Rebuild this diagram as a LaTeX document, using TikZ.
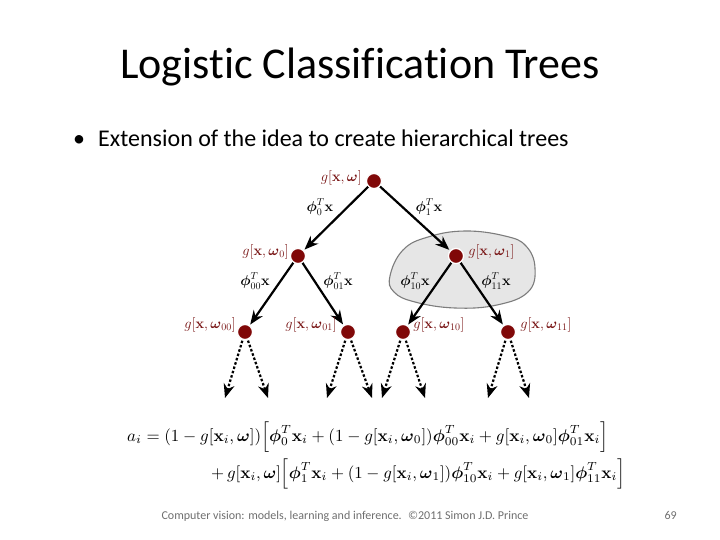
\documentclass[tikz,border=0pt]{standalone}
\usepackage{amsmath}
\usepackage[no-math]{fontspec}
\setmainfont{Carlito}[Ligatures=NoCommon]
\usetikzlibrary{arrows.meta}
\definecolor{dotred}{RGB}{128,8,8}
\definecolor{labred}{RGB}{120,20,20}
\definecolor{blobgray}{RGB}{230,230,230}
\definecolor{blobedge}{RGB}{125,125,125}
\definecolor{footgray}{RGB}{110,110,110}
\newcommand{\gx}[1]{g[\mathbf{x},\boldsymbol{\omega}#1]}
\newcommand{\bx}{\mathbf{x}}
\newcommand{\bp}{\boldsymbol{\phi}}
\newcommand{\bw}{\boldsymbol{\omega}}
\tikzset{
  dot/.style={circle, fill=dotred, draw=white, line width=1.2pt, minimum size=15pt, inner sep=0pt},
  lab/.style={text=labred, font=\fontsize{14}{16}\selectfont, inner sep=0pt},
  elab/.style={font=\fontsize{14.5}{17}\selectfont, inner sep=0pt},
  arr/.style={-{Stealth[length=14pt,width=11pt]}, line width=2.2pt, shorten >=1pt},
  darr/.style={-{Stealth[length=14pt,width=11pt]}, line width=2.2pt, dash pattern=on 2.5pt off 2pt, shorten <=1pt},
  titletext/.style={font=\fontsize{44}{50}\selectfont, inner sep=0pt},
  bodytext/.style={font=\fontsize{24}{28}\selectfont, inner sep=0pt},
  foot/.style={font=\fontsize{12}{14}\selectfont, text=footgray, inner sep=0pt}
}
\begin{document}
\begin{tikzpicture}[x=1pt,y=-1pt]
\useasboundingbox (0,0) rectangle (720,540);
% title and bullet
\node[titletext, anchor=base] (title) at (360,79) {Logistic Classification Trees};
\node[bodytext, anchor=base west] (bul) at (73,147) {•};
\node[bodytext, anchor=base west] (body) at (98,147) {Extension of the idea to create hierarchical trees};
% blob
\draw[fill=blobgray, draw=blobedge, line width=1.1pt] plot[smooth cycle, tension=0.7] coordinates {(390,276) (403,250) (428,237) (465,231) (505,236) (526,246) (535,268) (528,292) (497,305) (455,308) (415,302) (394,292)};
% nodes
\node[dot] (r) at (374,181) {};
\node[dot] (n0) at (298,256) {};
\node[dot] (n1) at (456,256) {};
\node[dot] (n00) at (245,332) {};
\node[dot] (n01) at (348,332) {};
\node[dot] (n10) at (403,332) {};
\node[dot] (n11) at (508,332) {};
% free ends
\coordinate (e00a) at (225,398);
\coordinate (e00b) at (268,398);
\coordinate (e01a) at (327,398);
\coordinate (e01b) at (372,398);
\coordinate (e10a) at (382,398);
\coordinate (e10b) at (425,398);
\coordinate (e11a) at (488,398);
\coordinate (e11b) at (529,398);
% solid arrows
\draw[arr] (r) -- (n0);
\draw[arr] (r) -- (n1);
\draw[arr] (n0) -- (n00);
\draw[arr] (n0) -- (n01);
\draw[arr] (n1) -- (n10);
\draw[arr] (n1) -- (n11);
% dotted arrows
\draw[darr] (n00) -- (e00a);
\draw[darr] (n00) -- (e00b);
\draw[darr] (n01) -- (e01a);
\draw[darr] (n01) -- (e01b);
\draw[darr] (n10) -- (e10a);
\draw[darr] (n10) -- (e10b);
\draw[darr] (n11) -- (e11a);
\draw[darr] (n11) -- (e11b);
% redraw dots on top
\node[dot] at (r) {};
\node[dot] at (n0) {};
\node[dot] at (n1) {};
\node[dot] at (n00) {};
\node[dot] at (n01) {};
\node[dot] at (n10) {};
\node[dot] at (n11) {};
% node labels
\node[lab, anchor=east] (lr) at ([xshift=-4pt,yshift=3pt]r.west) {$\gx{}$};
\node[lab, anchor=east] (l0) at ([xshift=-1pt,yshift=4pt]n0.west) {$\gx{_0}$};
\node[lab, anchor=west] (l1) at ([xshift=4pt,yshift=4pt]n1.east) {$\gx{_1}$};
\node[lab, anchor=east] (l00) at ([xshift=-1pt,yshift=7pt]n00.west) {$\gx{_{00}}$};
\node[lab, anchor=east] (l01) at ([xshift=-3pt,yshift=7pt]n01.west) {$\gx{_{01}}$};
\node[lab, anchor=west] (l10) at ([xshift=2pt,yshift=7pt]n10.east) {$\gx{_{10}}$};
\node[lab, anchor=west] (l11) at ([xshift=4pt,yshift=7pt]n11.east) {$\gx{_{11}}$};
% edge labels
\node[elab] (p0) at (320,207) {$\bp_0^T\bx$};
\node[elab] (p1) at (429,207) {$\bp_1^T\bx$};
\node[elab] (p00) at (255,281) {$\bp_{00}^T\bx$};
\node[elab] (p01) at (338,281) {$\bp_{01}^T\bx$};
\node[elab] (p10) at (415,281) {$\bp_{10}^T\bx$};
\node[elab] (p11) at (496,281) {$\bp_{11}^T\bx$};
% equation
\node[anchor=west, inner sep=0pt] (eq1) at (127,437) {\resizebox{481pt}{!}{$a_i = (1-g[\bx_i,\bw])\Bigl[\bp_0^T\bx_i + (1-g[\bx_i,\bw_0])\bp_{00}^T\bx_i + g[\bx_i,\bw_0]\bp_{01}^T\bx_i\Bigr]$}};
\node[anchor=west, inner sep=0pt] (eq2) at (211,474) {\resizebox{414pt}{!}{$+\,g[\bx_i,\bw]\Bigl[\bp_1^T\bx_i + (1-g[\bx_i,\bw_1])\bp_{10}^T\bx_i + g[\bx_i,\bw_1]\bp_{11}^T\bx_i\Bigr]$}};
% footer
\node[foot, anchor=base] (ft) at (345,519) {Computer vision: models, learning and inference. \ ©2011 Simon J.D. Prince};
\node[foot, anchor=base east] (pg) at (677,519) {69};
\end{tikzpicture}
\end{document}
